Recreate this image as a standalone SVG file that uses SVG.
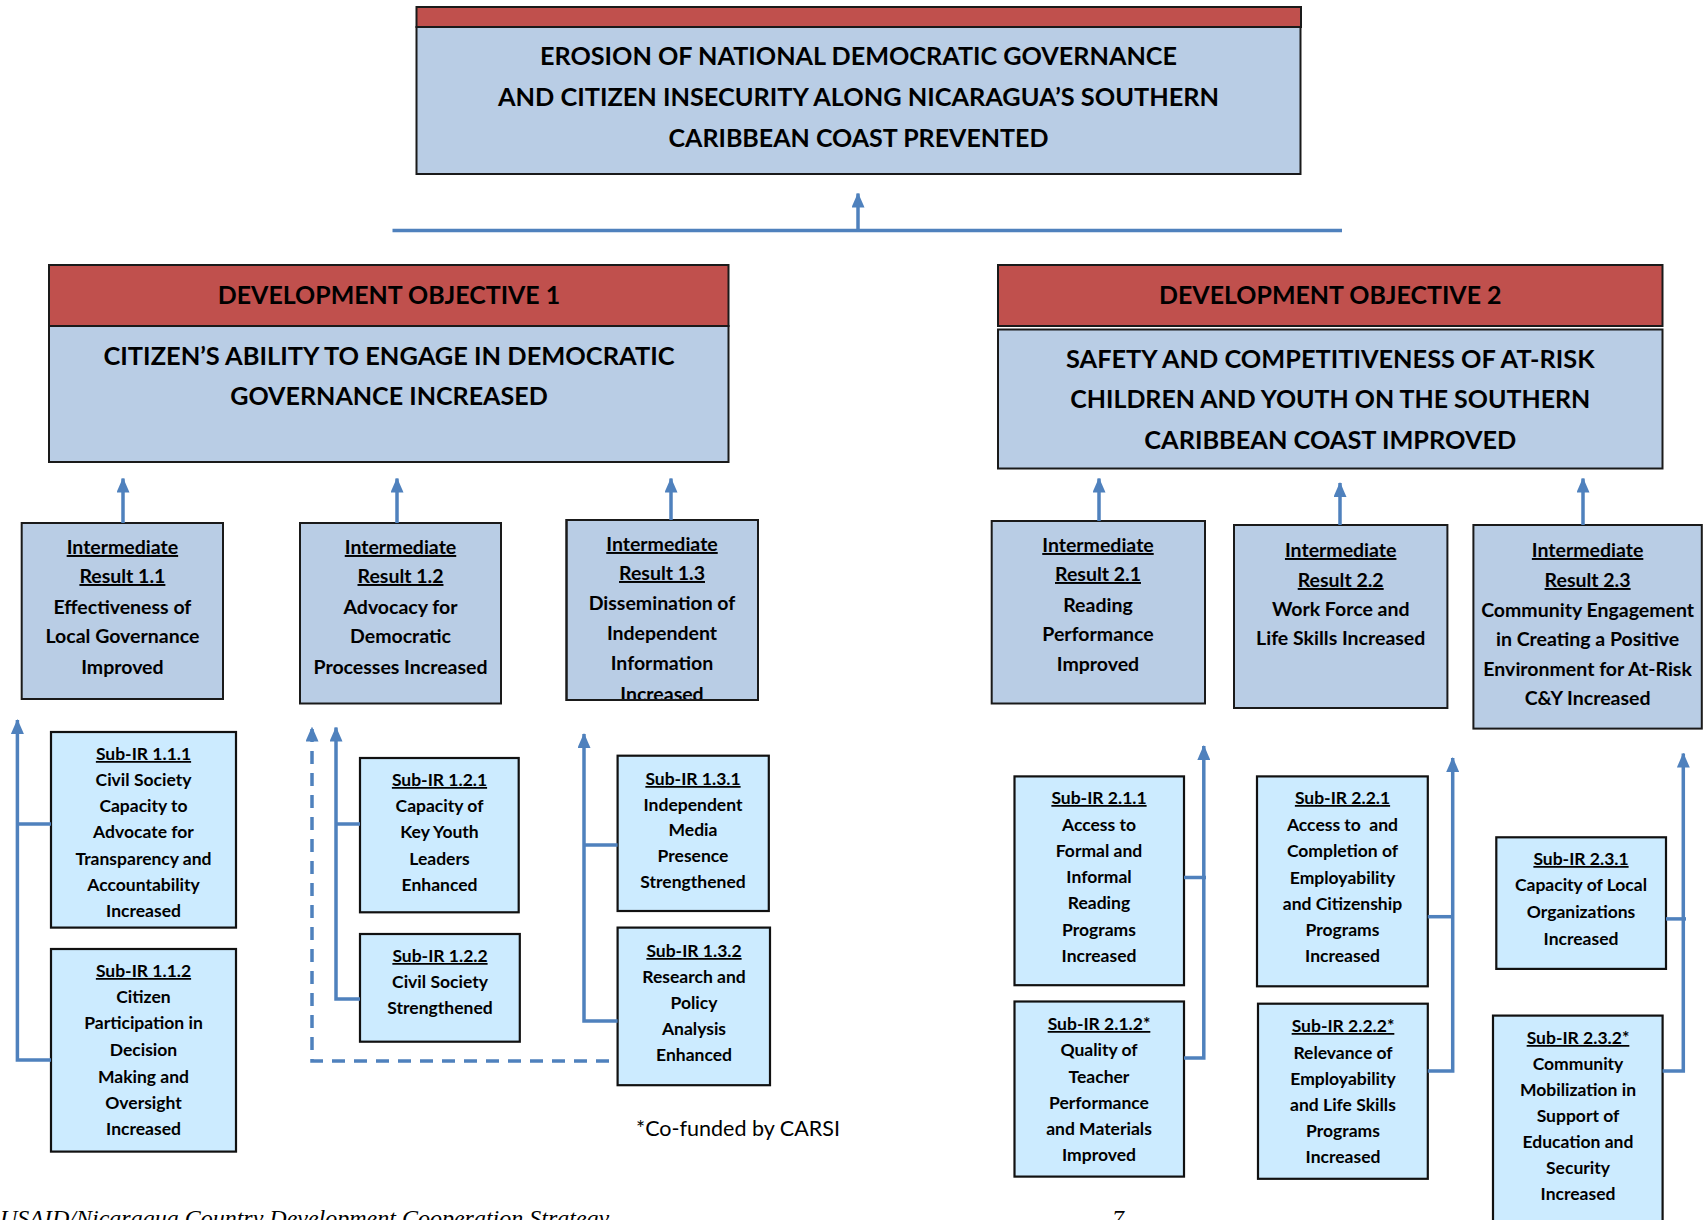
<svg xmlns="http://www.w3.org/2000/svg" width="1705" height="1220" viewBox="0 0 1705 1220">
<style>
.red{fill:#C0504D;stroke:#1a1a1a;stroke-width:2}
.blue{fill:#B9CDE5;stroke:#1a1a1a;stroke-width:2}
.sub{fill:#CCEBFF;stroke:#111;stroke-width:2.2}
text{font-family:Lato,"Open Sans","Liberation Sans",sans-serif;font-weight:700;text-anchor:middle;fill:#000}
.hd{font-size:25px}
.ir{font-size:19.5px}
.si{font-size:17.5px}
.u{text-decoration:underline}
.c{fill:none;stroke:#4F81BD;stroke-width:3.5}
.d{stroke-dasharray:13 9}
.note{font-weight:400;font-size:21px}
.foot{font-family:"Liberation Serif",serif;font-style:italic;font-weight:400;font-size:24px;text-anchor:start}
</style>
<defs>
<marker id="ah" viewBox="0 0 15 13" refX="14" refY="6.5" markerWidth="15" markerHeight="13" markerUnits="userSpaceOnUse" orient="auto">
<path d="M0,0 L15,6.5 L0,13 z" fill="#4F81BD"/>
</marker>
<clipPath id="clip13"><rect x="566" y="520" width="192" height="179"/></clipPath>
</defs>
<rect width="1705" height="1220" fill="#fff"/>

<g id="goal">
<rect class="red" x="416.5" y="7" width="884.5" height="20"/>
<rect class="blue" x="416.5" y="27" width="884" height="147"/>
<text class="hd" x="858.5" y="64.5" textLength="637" lengthAdjust="spacingAndGlyphs">EROSION OF NATIONAL DEMOCRATIC GOVERNANCE</text>
<text class="hd" x="858.5" y="106" textLength="721" lengthAdjust="spacingAndGlyphs">AND CITIZEN INSECURITY ALONG NICARAGUA’S SOUTHERN</text>
<text class="hd" x="858.5" y="147" textLength="380" lengthAdjust="spacingAndGlyphs">CARIBBEAN COAST PREVENTED</text>
</g>

<g id="do1">
<rect class="red" x="49" y="265" width="679.5" height="61"/>
<rect class="blue" x="49" y="326" width="679.5" height="136"/>
<text class="hd" x="389" y="303.5" textLength="342.5" lengthAdjust="spacingAndGlyphs">DEVELOPMENT OBJECTIVE 1</text>
<text class="hd" x="389" y="364.5" textLength="571" lengthAdjust="spacingAndGlyphs">CITIZEN’S ABILITY TO ENGAGE IN DEMOCRATIC</text>
<text class="hd" x="389" y="404.8" textLength="317.5" lengthAdjust="spacingAndGlyphs">GOVERNANCE INCREASED</text>
</g>

<g id="do2">
<rect class="red" x="998" y="265" width="664.5" height="61"/>
<rect class="blue" x="998" y="329.5" width="664.5" height="139"/>
<text class="hd" x="1330.3" y="303.5" textLength="342.5" lengthAdjust="spacingAndGlyphs">DEVELOPMENT OBJECTIVE 2</text>
<text class="hd" x="1330.3" y="367.8" textLength="528.5" lengthAdjust="spacingAndGlyphs">SAFETY AND COMPETITIVENESS OF AT-RISK</text>
<text class="hd" x="1330.3" y="408" textLength="520" lengthAdjust="spacingAndGlyphs">CHILDREN AND YOUTH ON THE SOUTHERN</text>
<text class="hd" x="1330.3" y="449.4" textLength="372" lengthAdjust="spacingAndGlyphs">CARIBBEAN COAST IMPROVED</text>
</g>

<g id="ir11">
<rect class="blue" x="21.7" y="523" width="201.3" height="176"/>
<text class="ir u" x="122.4" y="554">Intermediate</text>
<text class="ir u" x="122.4" y="583">Result 1.1</text>
<text class="ir" x="122.4" y="614">Effectiveness of</text>
<text class="ir" x="122.4" y="643">Local Governance</text>
<text class="ir" x="122.4" y="674">Improved</text>
</g>

<g id="ir12">
<rect class="blue" x="300" y="523" width="201" height="180.5"/>
<text class="ir u" x="400.5" y="554">Intermediate</text>
<text class="ir u" x="400.5" y="583">Result 1.2</text>
<text class="ir" x="400.5" y="614">Advocacy for</text>
<text class="ir" x="400.5" y="643">Democratic</text>
<text class="ir" x="400.5" y="674">Processes Increased</text>
</g>

<g id="ir13">
<rect class="blue" x="566.5" y="520" width="191.5" height="180"/>
<g clip-path="url(#clip13)">
<text class="ir u" x="662" y="551">Intermediate</text>
<text class="ir u" x="662" y="580">Result 1.3</text>
<text class="ir" x="662" y="610">Dissemination of</text>
<text class="ir" x="662" y="640">Independent</text>
<text class="ir" x="662" y="670">Information</text>
<text class="ir" x="662" y="701">Increased</text>
</g>
<rect x="566.5" y="520" width="191.5" height="180" fill="none" stroke="#1a1a1a" stroke-width="2"/>
</g>

<g id="ir21">
<rect class="blue" x="991.7" y="521" width="213.3" height="182.5"/>
<text class="ir u" x="1098" y="552">Intermediate</text>
<text class="ir u" x="1098" y="581">Result 2.1</text>
<text class="ir" x="1098" y="612">Reading</text>
<text class="ir" x="1098" y="641">Performance</text>
<text class="ir" x="1098" y="671">Improved</text>
</g>

<g id="ir22">
<rect class="blue" x="1234" y="525" width="213.4" height="183"/>
<text class="ir u" x="1340.7" y="557">Intermediate</text>
<text class="ir u" x="1340.7" y="587">Result 2.2</text>
<text class="ir" x="1340.7" y="616">Work Force and</text>
<text class="ir" x="1340.7" y="645">Life Skills Increased</text>
</g>

<g id="ir23">
<rect class="blue" x="1473.4" y="525" width="228.4" height="203.6"/>
<text class="ir u" x="1587.6" y="557">Intermediate</text>
<text class="ir u" x="1587.6" y="587">Result 2.3</text>
<text class="ir" x="1587.6" y="617">Community Engagement</text>
<text class="ir" x="1587.6" y="646">in Creating a Positive</text>
<text class="ir" x="1587.6" y="676">Environment for At-Risk</text>
<text class="ir" x="1587.6" y="705">C&amp;Y Increased</text>
</g>

<g id="sub111">
<rect class="sub" x="51" y="732" width="185" height="195.6"/>
<text class="si u" x="143.5" y="760">Sub-IR 1.1.1</text>
<text class="si" x="143.5" y="786">Civil Society</text>
<text class="si" x="143.5" y="812">Capacity to</text>
<text class="si" x="143.5" y="838">Advocate for</text>
<text class="si" x="143.5" y="865">Transparency and</text>
<text class="si" x="143.5" y="891">Accountability</text>
<text class="si" x="143.5" y="917">Increased</text>
</g>

<g id="sub112">
<rect class="sub" x="51" y="949" width="185" height="202.6"/>
<text class="si u" x="143.5" y="977">Sub-IR 1.1.2</text>
<text class="si" x="143.5" y="1003">Citizen</text>
<text class="si" x="143.5" y="1029">Participation in</text>
<text class="si" x="143.5" y="1056">Decision</text>
<text class="si" x="143.5" y="1083">Making and</text>
<text class="si" x="143.5" y="1109">Oversight</text>
<text class="si" x="143.5" y="1135">Increased</text>
</g>

<g id="sub121">
<rect class="sub" x="360" y="758" width="158.7" height="154.3"/>
<text class="si u" x="439.5" y="786">Sub-IR 1.2.1</text>
<text class="si" x="439.5" y="812">Capacity of</text>
<text class="si" x="439.5" y="838">Key Youth</text>
<text class="si" x="439.5" y="865">Leaders</text>
<text class="si" x="439.5" y="891">Enhanced</text>
</g>

<g id="sub122">
<rect class="sub" x="360" y="934" width="159.8" height="107.7"/>
<text class="si u" x="440" y="962">Sub-IR 1.2.2</text>
<text class="si" x="440" y="988">Civil Society</text>
<text class="si" x="440" y="1014">Strengthened</text>
</g>

<g id="sub131">
<rect class="sub" x="617.6" y="755.7" width="151.2" height="155.3"/>
<text class="si u" x="693" y="785">Sub-IR 1.3.1</text>
<text class="si" x="693" y="811">Independent</text>
<text class="si" x="693" y="836">Media</text>
<text class="si" x="693" y="862">Presence</text>
<text class="si" x="693" y="888">Strengthened</text>
</g>

<g id="sub132">
<rect class="sub" x="617.6" y="927.6" width="152.4" height="157.6"/>
<text class="si u" x="694" y="957">Sub-IR 1.3.2</text>
<text class="si" x="694" y="983">Research and</text>
<text class="si" x="694" y="1009">Policy</text>
<text class="si" x="694" y="1035">Analysis</text>
<text class="si" x="694" y="1061">Enhanced</text>
</g>

<g id="sub211">
<rect class="sub" x="1014.5" y="776.4" width="169.5" height="208.8"/>
<text class="si u" x="1099" y="804">Sub-IR 2.1.1</text>
<text class="si" x="1099" y="831">Access to</text>
<text class="si" x="1099" y="857">Formal and</text>
<text class="si" x="1099" y="883">Informal</text>
<text class="si" x="1099" y="909">Reading</text>
<text class="si" x="1099" y="936">Programs</text>
<text class="si" x="1099" y="962">Increased</text>
</g>

<g id="sub212">
<rect class="sub" x="1014.5" y="1001.5" width="169.5" height="175.1"/>
<text class="si u" x="1099" y="1030">Sub-IR 2.1.2*</text>
<text class="si" x="1099" y="1056">Quality of</text>
<text class="si" x="1099" y="1083">Teacher</text>
<text class="si" x="1099" y="1109">Performance</text>
<text class="si" x="1099" y="1135">and Materials</text>
<text class="si" x="1099" y="1161">Improved</text>
</g>

<g id="sub221">
<rect class="sub" x="1257" y="776.4" width="170.8" height="209.9"/>
<text class="si u" x="1342.5" y="804">Sub-IR 2.2.1</text>
<text class="si" x="1342.5" y="831" style="white-space:pre">Access to  and</text>
<text class="si" x="1342.5" y="857">Completion of</text>
<text class="si" x="1342.5" y="884">Employability</text>
<text class="si" x="1342.5" y="910">and Citizenship</text>
<text class="si" x="1342.5" y="936">Programs</text>
<text class="si" x="1342.5" y="962">Increased</text>
</g>

<g id="sub222">
<rect class="sub" x="1258" y="1003.7" width="169.8" height="175.1"/>
<text class="si u" x="1343" y="1032">Sub-IR 2.2.2*</text>
<text class="si" x="1343" y="1059">Relevance of</text>
<text class="si" x="1343" y="1085">Employability</text>
<text class="si" x="1343" y="1111">and Life Skills</text>
<text class="si" x="1343" y="1137">Programs</text>
<text class="si" x="1343" y="1163">Increased</text>
</g>

<g id="sub231">
<rect class="sub" x="1496.3" y="837.3" width="169.7" height="131.6"/>
<text class="si u" x="1581" y="865">Sub-IR 2.3.1</text>
<text class="si" x="1581" y="891">Capacity of Local</text>
<text class="si" x="1581" y="918">Organizations</text>
<text class="si" x="1581" y="945">Increased</text>
</g>

<g id="sub232">
<rect class="sub" x="1493" y="1015.6" width="169.6" height="230"/>
<text class="si u" x="1578" y="1044">Sub-IR 2.3.2*</text>
<text class="si" x="1578" y="1070">Community</text>
<text class="si" x="1578" y="1096">Mobilization in</text>
<text class="si" x="1578" y="1122">Support of</text>
<text class="si" x="1578" y="1148">Education and</text>
<text class="si" x="1578" y="1174">Security</text>
<text class="si" x="1578" y="1200">Increased</text>
</g>

<g id="connectors">
<path class="c" d="M392.5,230.5 H1342"/>
<path class="c" d="M858,230.5 V193.5" marker-end="url(#ah)"/>
<path class="c" d="M123,523 V478.5" marker-end="url(#ah)"/>
<path class="c" d="M397,523 V478.5" marker-end="url(#ah)"/>
<path class="c" d="M671,520 V478.5" marker-end="url(#ah)"/>
<path class="c" d="M1099,521 V478.5" marker-end="url(#ah)"/>
<path class="c" d="M1340,525 V483" marker-end="url(#ah)"/>
<path class="c" d="M1583,525 V478.5" marker-end="url(#ah)"/>
<path class="c" d="M51,1060 H17.4 V720" marker-end="url(#ah)"/>
<path class="c" d="M51,824 H17.4"/>
<path class="c" d="M360,999 H336 V727.5" marker-end="url(#ah)"/>
<path class="c" d="M360,824 H336"/>
<path class="c d" d="M609,1061 H312 V727.5" marker-end="url(#ah)"/>
<path class="c" d="M617.6,1021 H584 V734" marker-end="url(#ah)"/>
<path class="c" d="M617.6,845 H584"/>
<path class="c" d="M1184,1058 H1203.8 V746" marker-end="url(#ah)"/>
<path class="c" d="M1184,877.5 H1206"/>
<path class="c" d="M1427.8,1071 H1452.7 V758" marker-end="url(#ah)"/>
<path class="c" d="M1427.8,916.7 H1452.7"/>
<path class="c" d="M1662.6,1071 H1683.3 V753.6" marker-end="url(#ah)"/>
<path class="c" d="M1666,918.9 H1686"/>
</g>

<text class="note" x="738" y="1136" textLength="204" lengthAdjust="spacingAndGlyphs">*Co-funded by CARSI</text>
<text class="foot" x="0" y="1226">USAID/Nicaragua Country Development Cooperation Strategy</text>
<text class="foot" x="1112" y="1226">7</text>
</svg>
